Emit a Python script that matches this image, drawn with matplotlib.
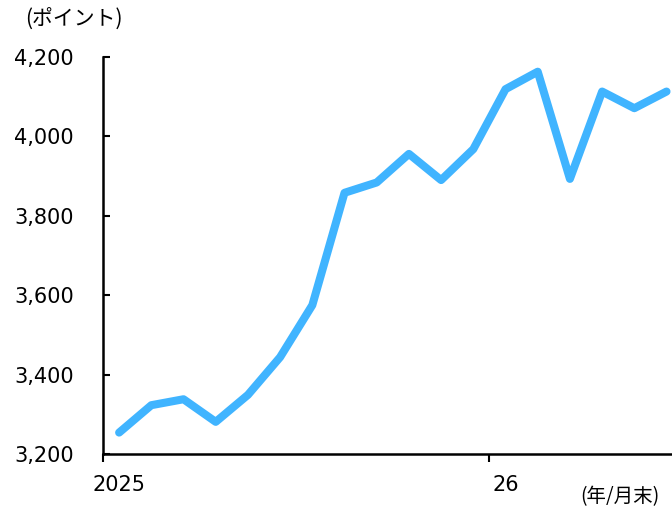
import matplotlib.pyplot as plt
from matplotlib.ticker import FixedLocator, FuncFormatter

plt.rcParams['font.family'] = ['DejaVu Sans', 'Noto Sans CJK JP']

# month-end index values, Jan 2025 onwards
months = list(range(18))
index_values = [3254, 3323, 3338, 3281, 3349, 3444, 3575, 3858, 3884,
                3956, 3890, 3968, 4119, 4163, 3893, 4113, 4071, 4113]
year_labels = {0: '2025', 12: '26'}
y_ticks = [3200, 3400, 3600, 3800, 4000, 4200]

fig = plt.figure(figsize=(6.72, 5.09), dpi=100)
ax = fig.add_axes([0.1533, 0.108, 0.8467, 0.780])

ax.plot(months, index_values, color='#40B4FF', linewidth=5.8,
        solid_capstyle='round', solid_joinstyle='round')

ax.set_ylim(3200, 4200)
ax.set_xlim(-0.5, 17.17)
ax.set_yticks(y_ticks)
ax.yaxis.set_major_formatter(FuncFormatter(lambda v, p: f'{int(v):,}'))
ax.tick_params(axis='y', direction='in', length=5, width=1.5,
               labelsize=15, pad=21)

# year boundary ticks, labels centred on the first month of each year
ax.xaxis.set_major_locator(FixedLocator([-0.5, 11.5]))
ax.xaxis.set_major_formatter(FuncFormatter(lambda v, p: ''))
ax.xaxis.set_minor_locator(FixedLocator(list(year_labels.keys())))
ax.xaxis.set_minor_formatter(FuncFormatter(lambda v, p: year_labels.get(int(round(v)), '')))
ax.tick_params(axis='x', which='major', direction='out', length=6, width=1.5)
ax.tick_params(axis='x', which='minor', length=0, labelsize=15, pad=15)

for side in ['top', 'right']:
    ax.spines[side].set_visible(False)
for side in ['left', 'bottom']:
    ax.spines[side].set_linewidth(1.8)
    ax.spines[side].set_color('black')

fig.text(0.038, 0.962, '(ポイント)', fontsize=15, ha='left', va='center',
         family=['Noto Sans CJK JP', 'DejaVu Sans'])
fig.text(0.863, 0.024, '(年/月末)', fontsize=14, ha='left', va='center',
         family=['Noto Sans CJK JP', 'DejaVu Sans'])

fig.savefig('out.png', dpi=100)
